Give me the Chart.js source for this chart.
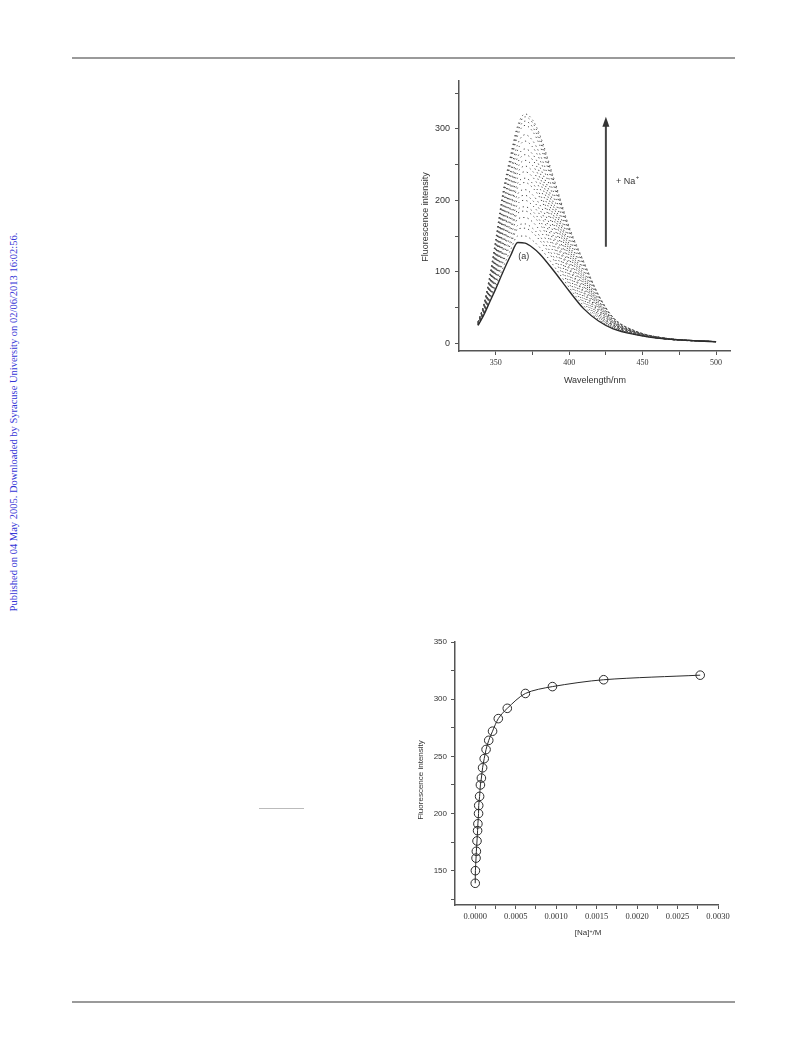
<!DOCTYPE html>
<html>
<head>
<meta charset="utf-8">
<script src="https://cdn.jsdelivr.net/npm/chart.js@4.4.1/dist/chart.umd.min.js"></script>
<style>
body{margin:0;background:#fff;width:793px;height:1040px;position:relative;overflow:hidden;font-family:"Liberation Sans",Arial,sans-serif;color:#333}
.abs{position:absolute}
.rule{position:absolute;height:2px;background:#9a9a9a}
.lbl{position:absolute;white-space:nowrap;line-height:1;transform:translate(-50%,-50%)}
.rot{transform:translate(-50%,-50%) rotate(-90deg)}
sup{font-size:65%;vertical-align:0.45em;line-height:0}
#side{font-family:"Liberation Serif","Times New Roman",serif;font-size:10.5px;color:#3535d6}
</style>
</head>
<body>
<div class="rule" style="left:72px;top:57px;width:663px"></div>
<div class="rule" style="left:72px;top:1001px;width:663px"></div>
<div class="abs" style="left:259px;top:808px;width:45px;height:1px;background:#bbb"></div>
<div id="side" class="lbl rot" style="left:14px;top:422px">Published on 04 May 2005. Downloaded by Syracuse University on 02/06/2013 16:02:56.</div>

<canvas id="spectra" class="abs" style="left:400px;top:70px"></canvas>
<canvas id="titration" class="abs" style="left:400px;top:630px"></canvas>

<div class="lbl rot" style="left:425px;top:217px;font-size:9px">Fluorescence intensity</div>
<div class="lbl" style="left:595px;top:380px;font-size:9px">Wavelength/nm</div>
<div class="lbl rot" style="left:421px;top:780px;font-size:8px">Fluorescence intensity</div>
<div class="lbl" style="left:588px;top:933px;font-size:8px">[Na]<sup>+</sup>/M</div>

<script>
// emission spectra (top panel)
let wavelengths = [338, 342, 346, 350, 355, 360, 365, 370, 375, 380, 390, 400, 410, 420, 430, 445, 465, 500]
let curveA = [25, 40, 58, 76, 100, 122, 141, 140, 134, 125, 100, 73, 48, 31, 20, 12, 6, 2]
let naCurves = [
    [25, 41, 60, 80, 106, 130, 150, 150, 144, 134, 107, 78, 52, 33, 21, 12, 6, 2],
    [26, 42, 62, 84, 113, 138, 160, 161, 155, 144, 115, 83, 56, 35, 22, 13, 6, 2],
    [26, 42, 64, 86, 117, 143, 165, 167, 161, 150, 119, 86, 58, 37, 22, 13, 6, 2],
    [26, 43, 65, 90, 122, 150, 174, 176, 170, 158, 126, 91, 61, 38, 23, 13, 6, 2],
    [26, 44, 67, 93, 128, 157, 182, 185, 179, 167, 132, 95, 64, 40, 24, 13, 6, 2],
    [26, 44, 68, 96, 132, 162, 187, 191, 185, 172, 136, 98, 67, 41, 25, 13, 6, 2],
    [27, 45, 70, 99, 137, 168, 195, 200, 193, 180, 142, 103, 70, 43, 25, 14, 6, 2],
    [27, 46, 72, 102, 141, 174, 202, 207, 200, 187, 147, 106, 72, 45, 26, 14, 6, 2],
    [27, 46, 73, 105, 146, 180, 209, 215, 208, 194, 153, 110, 75, 46, 27, 14, 6, 2],
    [27, 47, 75, 108, 153, 188, 218, 225, 218, 204, 160, 115, 79, 48, 28, 14, 6, 2],
    [28, 48, 77, 111, 156, 192, 224, 231, 224, 209, 164, 118, 81, 50, 28, 15, 7, 2],
    [28, 48, 78, 114, 162, 199, 232, 240, 233, 217, 171, 123, 84, 51, 29, 15, 7, 2],
    [28, 49, 80, 117, 167, 206, 239, 248, 241, 225, 176, 127, 87, 53, 30, 15, 7, 2],
    [28, 50, 82, 120, 172, 212, 246, 256, 249, 232, 182, 131, 90, 55, 30, 15, 7, 2],
    [28, 50, 83, 123, 177, 218, 253, 264, 257, 239, 188, 135, 93, 56, 31, 15, 7, 2],
    [29, 51, 85, 126, 182, 224, 261, 272, 265, 247, 193, 139, 96, 58, 32, 16, 7, 2],
    [29, 52, 87, 131, 189, 233, 271, 283, 275, 257, 201, 144, 100, 60, 33, 16, 7, 2],
    [29, 53, 89, 134, 194, 240, 279, 292, 284, 265, 208, 149, 103, 62, 33, 16, 7, 2],
    [30, 54, 92, 139, 202, 250, 291, 305, 297, 277, 217, 155, 108, 65, 35, 17, 7, 2],
    [30, 54, 93, 141, 206, 254, 296, 311, 303, 283, 221, 158, 110, 66, 35, 17, 7, 2],
    [30, 55, 94, 144, 210, 259, 301, 317, 309, 288, 225, 161, 113, 67, 36, 17, 7, 2],
    [30, 55, 95, 145, 212, 262, 305, 321, 313, 292, 228, 163, 114, 68, 36, 17, 7, 2]
]
let spectraXTicks = [350, 375, 400, 425, 450, 475, 500]
let spectraXLabels = [350, 400, 450, 500]
let spectraYTicks = [0, 50, 100, 150, 200, 250, 300, 350]
let spectraYLabels = [0, 100, 200, 300]

// titration (bottom panel)
let naConc = [0, 0.000002, 0.00001, 0.000014, 0.000022, 0.000029, 0.000033, 0.000041, 0.000043, 0.000054, 0.000064, 0.000076, 0.000091, 0.000111, 0.000134, 0.000167, 0.000214, 0.000285, 0.000396, 0.00062, 0.000954, 0.001587, 0.00278]
let naIntensity = [139, 150, 161, 167, 176, 185, 191, 200, 207, 215, 225, 231, 240, 248, 256, 264, 272, 283, 292, 305, 311, 317, 321]
let titrXTicks = [0, 0.00025, 0.0005, 0.00075, 0.001, 0.00125, 0.0015, 0.00175, 0.002, 0.00225, 0.0025, 0.00275, 0.003]
let titrXLabels = [0, 0.0005, 0.001, 0.0015, 0.002, 0.0025, 0.003]
let titrYTicks = [125, 150, 175, 200, 225, 250, 275, 300, 325, 350]
let titrYLabels = [150, 200, 250, 300, 350]

const sansFont = '"Liberation Sans", Arial, sans-serif'
const serifFont = '"Liberation Serif", "Times New Roman", serif'

function fixedTicks(list){
    return (scale) => { scale.ticks = list.map(v => ({value: v})) }
}

function axisStyle(){
    return {
        grid: {drawOnChartArea: false, drawTicks: true, tickLength: 4, color: '#555', lineWidth: 1},
        border: {display: true, color: '#555', width: 1.5}
    }
}

const spectraNotes = {
    id: 'spectraNotes',
    afterDraw(chart){
        const {ctx} = chart
        const x = chart.scales.x, y = chart.scales.y
        const ax = x.getPixelForValue(425)
        const yLow = y.getPixelForValue(135)
        const yTip = y.getPixelForValue(317)
        ctx.save()
        ctx.strokeStyle = '#444'
        ctx.lineWidth = 2
        ctx.beginPath()
        ctx.moveTo(ax, yLow)
        ctx.lineTo(ax, yTip + 8)
        ctx.stroke()
        ctx.fillStyle = '#333'
        ctx.beginPath()
        ctx.moveTo(ax, yTip)
        ctx.lineTo(ax - 3.5, yTip + 10)
        ctx.lineTo(ax + 3.5, yTip + 10)
        ctx.closePath()
        ctx.fill()
        ctx.font = '9px ' + sansFont
        ctx.textBaseline = 'middle'
        ctx.textAlign = 'left'
        const ty = y.getPixelForValue(226)
        ctx.fillText('+ Na', ax + 10, ty)
        const w = ctx.measureText('+ Na').width
        ctx.font = '6px ' + sansFont
        ctx.fillText('+', ax + 10.5 + w, ty - 4)
        ctx.font = '9px ' + sansFont
        ctx.textAlign = 'center'
        ctx.fillText('(a)', x.getPixelForValue(369), y.getPixelForValue(121.5))
        ctx.restore()
    }
}

let spectraSets = [{
    data: wavelengths.map((w, i) => ({x: w, y: curveA[i]})),
    borderColor: '#2b2b2b',
    borderWidth: 1.4,
    pointRadius: 0,
    cubicInterpolationMode: 'monotone'
}]
naCurves.forEach(c => {
    spectraSets.push({
        data: wavelengths.map((w, i) => ({x: w, y: c[i]})),
        borderColor: '#4a4a4a',
        borderWidth: 1,
        borderDash: [1.2, 3.2],
        pointRadius: 0,
        cubicInterpolationMode: 'monotone'
    })
})

const spectraCanvas = document.getElementById('spectra')
spectraCanvas.width = 340
spectraCanvas.height = 330
new Chart(spectraCanvas, {
    type: 'line',
    data: {datasets: spectraSets},
    options: {
        responsive: false,
        animation: false,
        layout: {padding: {top: 10, right: 10, left: 0, bottom: 0}},
        plugins: {legend: {display: false}, tooltip: {enabled: false}},
        scales: {
            x: {
                type: 'linear', min: 325, max: 509.5,
                afterBuildTicks: fixedTicks(spectraXTicks),
                afterFit: s => { s.height = 49 },
                ticks: {
                    autoSkip: false, maxRotation: 0, padding: 3, color: '#333',
                    font: {family: serifFont, size: 8},
                    callback: v => spectraXLabels.includes(v) ? String(v) : ''
                },
                ...axisStyle()
            },
            y: {
                min: -11, max: 368,
                afterBuildTicks: fixedTicks(spectraYTicks),
                afterFit: s => { s.width = 59 },
                ticks: {
                    padding: 5, color: '#333',
                    font: {family: sansFont, size: 9},
                    callback: v => spectraYLabels.includes(v) ? String(v) : ''
                },
                ...axisStyle()
            }
        }
    },
    plugins: [spectraNotes]
})

const titrCanvas = document.getElementById('titration')
titrCanvas.width = 350
titrCanvas.height = 330
new Chart(titrCanvas, {
    type: 'line',
    data: {datasets: [{
        data: naConc.map((c, i) => ({x: c, y: naIntensity[i]})),
        borderColor: '#2b2b2b',
        borderWidth: 1,
        tension: 0.3,
        pointRadius: 4.3,
        pointStyle: 'circle',
        pointBorderColor: '#2b2b2b',
        pointBorderWidth: 1,
        pointBackgroundColor: 'rgba(0,0,0,0)'
    }]},
    options: {
        responsive: false,
        animation: false,
        layout: {padding: {top: 12, right: 32, left: 0, bottom: 0}},
        plugins: {legend: {display: false}, tooltip: {enabled: false}},
        scales: {
            x: {
                type: 'linear', min: -0.00025, max: 0.003,
                afterBuildTicks: fixedTicks(titrXTicks),
                afterFit: s => { s.height = 55 },
                ticks: {
                    autoSkip: false, maxRotation: 0, padding: 3, color: '#333',
                    font: {family: serifFont, size: 8.5},
                    callback: v => titrXLabels.includes(v) ? v.toFixed(4) : ''
                },
                ...axisStyle()
            },
            y: {
                min: 120, max: 350,
                afterBuildTicks: fixedTicks(titrYTicks),
                afterFit: s => { s.width = 55 },
                ticks: {
                    padding: 4, color: '#333',
                    font: {family: sansFont, size: 8},
                    callback: v => titrYLabels.includes(v) ? String(v) : ''
                },
                ...axisStyle()
            }
        }
    }
})
</script>
</body>
</html>
